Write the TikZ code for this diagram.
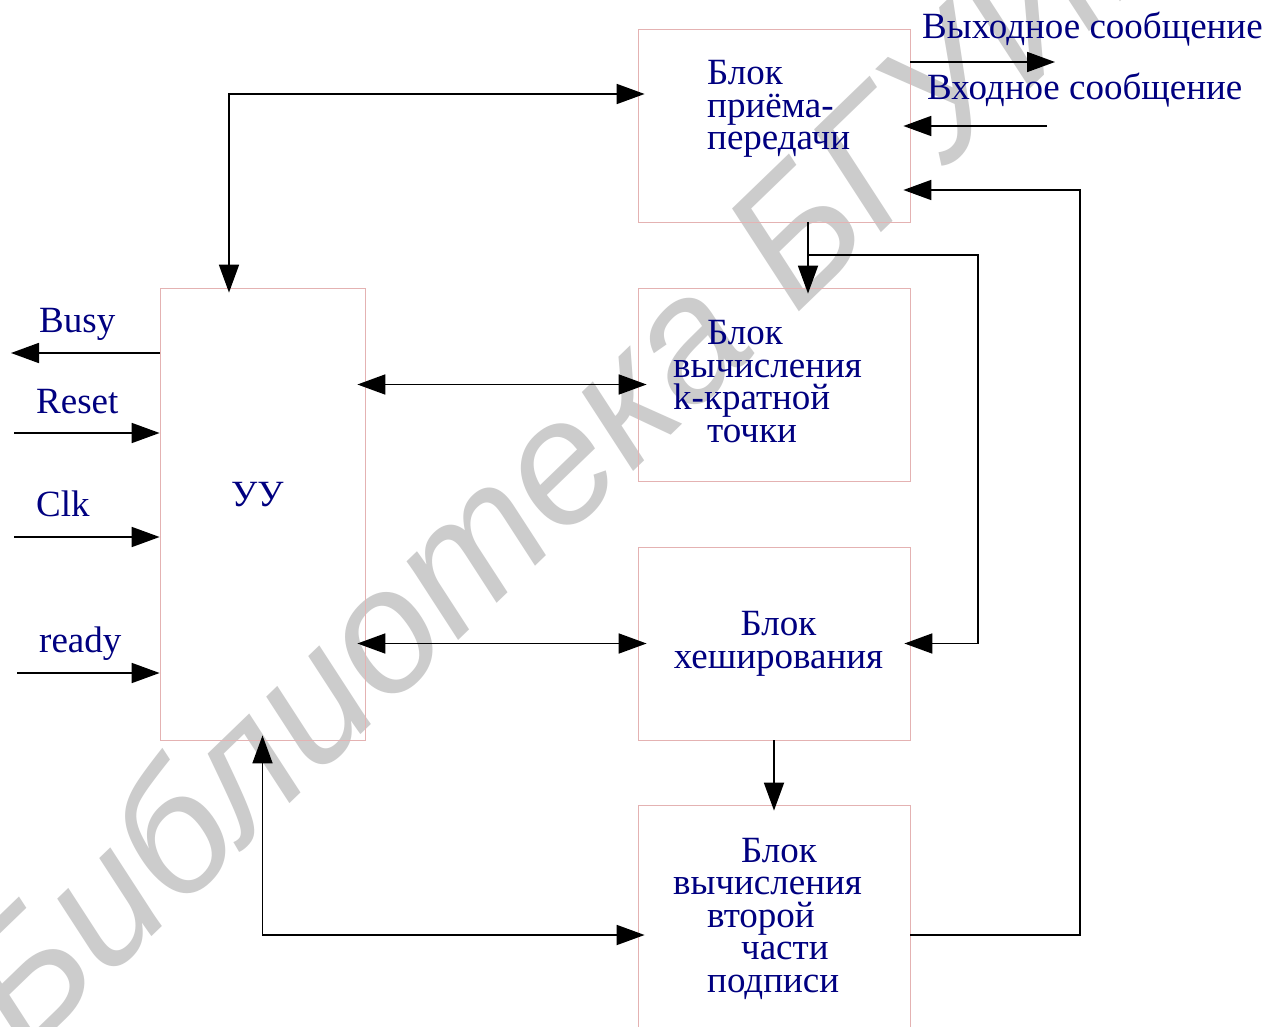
\documentclass[tikz,border=0pt]{standalone}
\usepackage{fontspec}
\setmainfont{Liberation Serif}
\newfontfamily\wmfont{Liberation Sans}
\usetikzlibrary{arrows.meta}

\definecolor{navytext}{RGB}{0,0,128}
\definecolor{boxline}{RGB}{228,178,178}
\definecolor{wmgray}{RGB}{204,204,204}

\tikzset{
  blockbox/.style={draw=boxline, line width=0.8pt, inner sep=0pt},
  lbl/.style={text=navytext, inner sep=0pt, font=\fontsize{37}{32.5}\selectfont},
  wmark/.style={text=wmgray, inner sep=0pt, font=\wmfont\itshape\fontsize{175}{175}\selectfont},
  conn/.style={line width=1.8pt, -{Triangle[length=28pt,width=20pt]}},
  biconn/.style={line width=1.8pt, {Triangle[length=28pt,width=20pt]}-{Triangle[length=28pt,width=20pt]}},
}

\begin{document}
\begin{tikzpicture}[x=1pt,y=-1pt]
        \fill[white] (0,0) rectangle (1270,1027);
        \useasboundingbox (0,0) rectangle (1270,1027);
        % watermark
        \node[wmark, rotate=44] (wm) at (569,446) {Библиотека БГУИР};

        % blocks
        \node[blockbox, minimum width=272pt, minimum height=193pt] (trx) at (774,125.5) {};
        \node[blockbox, minimum width=272pt, minimum height=193pt] (kmul) at (774,384.5) {};
        \node[blockbox, minimum width=272pt, minimum height=193pt] (hash) at (774,643.5) {};
        \node[blockbox, minimum width=272pt, minimum height=260pt] (sign) at (774,935) {};
        \node[blockbox, minimum width=205pt, minimum height=452pt] (uu) at (262.5,514) {};

        % block texts (base = last line)
        \node[lbl, anchor=base west, align=left] (trxtxt) at (707,150) {Блок\\приёма-\\передачи};
        \node[lbl, anchor=base west, align=left] (kmultxt) at (673,442)
          {\hspace*{34pt}Блок\\вычисления\\k-кратной\\\hspace*{34pt}точки};
        \node[lbl, anchor=base, align=center] (hashtxt) at (778.5,668) {Блок\\хеширования};
        \node[lbl, anchor=base west, align=left] (signtxt) at (673,992)
          {\hspace*{68pt}Блок\\вычисления\\\hspace*{34pt}второй\\\hspace*{68pt}части\\\hspace*{34pt}подписи};
        \node[lbl, anchor=base west] (uutxt) at (231,506) {УУ};

        % signal labels
        \node[lbl, anchor=base west] (busytxt) at (39,333) {Busy};
        \node[lbl, anchor=base west] (rsttxt) at (36,413) {Reset};
        \node[lbl, anchor=base west] (clktxt) at (36,516) {Clk};
        \node[lbl, anchor=base west] (rdytxt) at (39,652) {ready};
        \node[lbl, anchor=base west] (outtxt) at (922,39) {Выходное сообщение};
        \node[lbl, anchor=base west] (intxt) at (927,100) {Входное сообщение};

        % free ends and bends
        \coordinate (busyend) at (11,353);
        \coordinate (rstbeg) at (14,433);
        \coordinate (clkbeg) at (14,537);
        \coordinate (rdybeg) at (17,673);
        \coordinate (toploop) at (229,94);
        \coordinate (split) at (808,255);
        \coordinate (rbus) at (978,255);
        \coordinate (fback) at (1080,190);
        \coordinate (outend) at (1055,62);
        \coordinate (inbeg) at (1047,126);

        % connectors
        \draw[conn] (uu.west |- busyend) -- (busyend);
        \draw[conn] (rstbeg) -- (uu.west |- rstbeg);
        \draw[conn] (clkbeg) -- (uu.west |- clkbeg);
        \draw[conn] (rdybeg) -- (uu.west |- rdybeg);
        \draw[biconn, shorten <=-5pt, shorten >=-7pt] (uu.north -| toploop) |- (trx.west |- toploop);
        \draw[biconn, shorten <=-8pt, shorten >=-9pt] (uu.east |- kmul.west) -- (kmul.west);
        \draw[biconn, shorten <=-8pt, shorten >=-9pt] (uu.east |- hash.west) -- (hash.west);
        \draw[biconn, shorten <=-5pt, shorten >=-7pt] (uu.south) |- (sign.west);
        \draw[conn, shorten >=-6pt] (trx.south -| split) -- (kmul.north -| split);
        \draw[conn, shorten >=-6pt] (split) -- (rbus) |- (hash.east);
        \draw[conn, shorten >=-6pt] (hash.south) -- (sign.north);
        \draw[conn, shorten >=-7pt] (sign.east) -| (fback) -- (trx.east |- fback);
        \draw[conn] (trx.east |- outend) -- (outend);
        \draw[conn, shorten >=-7pt] (inbeg) -- (trx.east |- inbeg);
    \end{tikzpicture}
\end{document}
